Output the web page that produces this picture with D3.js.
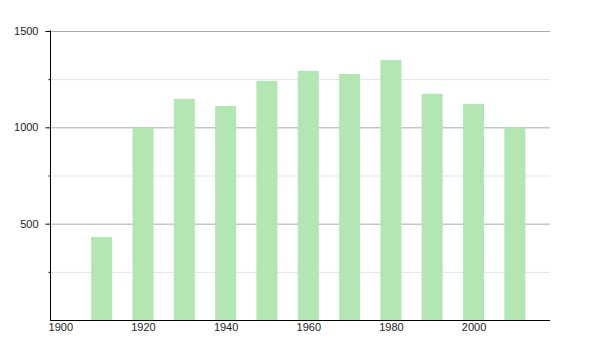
<!DOCTYPE html>
<html>
<head>
<meta charset="utf-8">
<script src="https://cdn.jsdelivr.net/npm/d3@7"></script>
<style>
  body { margin: 0; background: #fff; }
  text { font-family: "Liberation Sans", Arial, sans-serif; }
</style>
</head>
<body>
<script>
(function() {

	// data
	var years = [1910, 1920, 1930, 1940, 1950, 1960, 1970, 1980, 1990, 2000, 2010];
	var population = [431, 1000, 1148, 1111, 1241, 1293, 1277, 1350, 1174, 1122, 1001];
	var xTicks = [1900, 1920, 1940, 1960, 1980, 2000];
	var yMajorTicks = [500, 1000, 1500];
	var yMinorTicks = [250, 750, 1250];

	var width = 600;
	var height = 350;
	var left = 50;
	var right = 550;
	var top = 31;
	var bottom = 320;
	var barWidth = 21;

	var svg = d3.select('body')
		.append('svg')
			.attr('width', width)
			.attr('height', height);

	var x = d3.scaleLinear()
		.domain([1897.5, 2018.5])
		.range([left, right]);

	var y = d3.scaleLinear()
		.domain([0, 1500])
		.range([bottom, top]);

	// grid lines
	svg.append('g')
		.selectAll('line.minor')
		.data(yMinorTicks)
		.enter()
		.append('line')
			.attr('x1', left)
			.attr('x2', right)
			.attr('y1', d => y(d) + 0.5)
			.attr('y2', d => y(d) + 0.5)
			.style('stroke', '#e3e3e3');

	svg.append('g')
		.selectAll('line.major')
		.data(yMajorTicks)
		.enter()
		.append('line')
			.attr('x1', left)
			.attr('x2', right)
			.attr('y1', d => y(d) + 0.5)
			.attr('y2', d => y(d) + 0.5)
			.style('stroke', '#aaaaaa');

	// bars
	svg.append('g')
		.selectAll('rect')
		.data(years)
		.enter()
		.append('rect')
			.attr('x', (d) => x(d) - barWidth / 2)
			.attr('y', (d, i) => y(population[i]))
			.attr('width', barWidth)
			.attr('height', (d, i) => bottom - y(population[i]))
			.style('fill', '#b3e6b3');

	// y axis
	var yAxis = d3.axisLeft(y)
		.tickValues(yMajorTicks)
		.tickSize(5)
		.tickPadding(7)
		.tickFormat(d3.format('d'));

	var gy = svg.append('g')
		.attr('transform', 'translate(' + (left + 0.5) + ',0)')
		.call(yAxis);
	gy.select('.domain').attr('d', 'M0,' + (top - 0.5) + 'V' + (bottom + 0.5));
	gy.selectAll('text').style('font-size', '11px').style('fill', '#222');

	svg.append('g')
		.attr('transform', 'translate(' + (left + 0.5) + ',0)')
		.call(d3.axisLeft(y).tickValues(yMinorTicks).tickSize(2).tickFormat(''))
		.select('.domain').remove();

	// x axis
	var xAxis = d3.axisBottom(x)
		.tickValues(xTicks)
		.tickSize(0)
		.tickPadding(3)
		.tickFormat(d3.format('d'));

	var gx = svg.append('g')
		.attr('transform', 'translate(0,' + (bottom + 0.5) + ')')
		.call(xAxis);
	gx.select('.domain').attr('d', 'M' + left + ',0H' + right);
	gx.selectAll('text').style('font-size', '11px').style('fill', '#222');

})();
</script>
</body>
</html>
